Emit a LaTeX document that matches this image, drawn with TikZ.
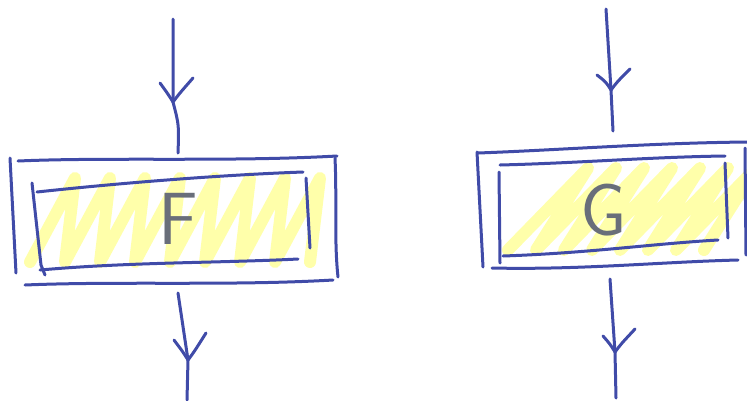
\documentclass[tikz,border=0pt]{standalone}
\usepackage{tikz}
\definecolor{pen}{RGB}{64,75,168}
\definecolor{marker}{RGB}{255,255,170}
\definecolor{pencil}{RGB}{105,110,122}
\tikzset{
  stroke/.style={draw=pen, line width=3pt, line cap=round, line join=round},
  hatch/.style={draw=marker, line width=12pt, line cap=round, line join=round},
  letter/.style={text=pencil, font=\sffamily\fontsize{74}{74}\selectfont, inner sep=0pt}
}
% open hand-drawn arrow head: tip, left end, right end
\newcommand{\sketchhead}[3]{%
  \draw[stroke] ([shift={(#2)}]#1) .. controls ([shift={(-5,-8)}]#1) .. (#1)
    .. controls ([shift={(6,-8)}]#1) .. ([shift={(#3)}]#1);}
\begin{document}
\begin{tikzpicture}[x=1pt, y=-1pt]
  \useasboundingbox (0,0) rectangle (747,400);
  % marker fill
  \draw[hatch] (30,262) \foreach \i in {1,...,8}{ -- ++(45,-84) -- ++(-10,84) };
  \draw[hatch] (508,250) \foreach \i in {1,...,7}{ -- ++(80,-82) -- ++(-52,82) };
  % box F
  \draw[stroke] (18,161) .. controls (110,157) and (230,162) .. (337,156);
  \draw[stroke] (10,158) -- (16,273);
  \draw[stroke] (335,158) .. controls (337,200) and (334,240) .. (338,277);
  \draw[stroke] (25,285) .. controls (120,281) and (230,286) .. (333,280);
  \draw[stroke] (37,192) .. controls (120,183) and (220,175) .. (303,172);
  \draw[stroke] (32,183) -- (41,265) -- (45,275);
  \draw[stroke] (40,270) .. controls (130,262) and (220,263) .. (298,259);
  \draw[stroke] (306,178) -- (310,248);
  \node[letter] (F) at (178,219) {F};
  % box G
  \draw[stroke] (478,153) .. controls (560,150) and (650,143) .. (747,142);
  \draw[stroke] (477,152) -- (483,267);
  \draw[stroke] (492,268) .. controls (580,270) and (660,262) .. (738,260);
  \draw[stroke] (745,148) -- (746,255);
  \draw[stroke] (500,165) .. controls (580,163) and (650,157) .. (725,156);
  \draw[stroke] (499,172) -- (500,263);
  \draw[stroke] (503,256) .. controls (590,253) and (650,244) .. (718,240);
  \draw[stroke] (725,163) -- (728,238);
  \node[letter] (G) at (604,210) {G};
  % arrows
  \coordinate (Fin) at (173,19);
  \coordinate (Fhead) at (173,102);
  \coordinate (Ftop) at (178,153);
  \coordinate (Fbot) at (178,293);
  \coordinate (Fouthead) at (188,360);
  \coordinate (Fout) at (187,400);
  \coordinate (Gin) at (606,9);
  \coordinate (Ghead) at (611,90);
  \coordinate (Gtop) at (613,131);
  \coordinate (Gbot) at (610,279);
  \coordinate (Gouthead) at (615,352);
  \coordinate (Gout) at (616,398);
  \draw[stroke] (Fin) -- (Fhead) .. controls (179,125) .. (Ftop);
  \sketchhead{Fhead}{-13,-19}{20,-24}
  \draw[stroke] (Fbot) -- (Fouthead) -- (Fout);
  \sketchhead{Fouthead}{-14,-20}{18,-27}
  \draw[stroke] (Gin) -- (Ghead) -- (Gtop);
  \sketchhead{Ghead}{-14,-15}{19,-21}
  \draw[stroke] (Gbot) -- (Gouthead) -- (Gout);
  \sketchhead{Gouthead}{-12,-16}{20,-23}
\end{tikzpicture}
\end{document}
